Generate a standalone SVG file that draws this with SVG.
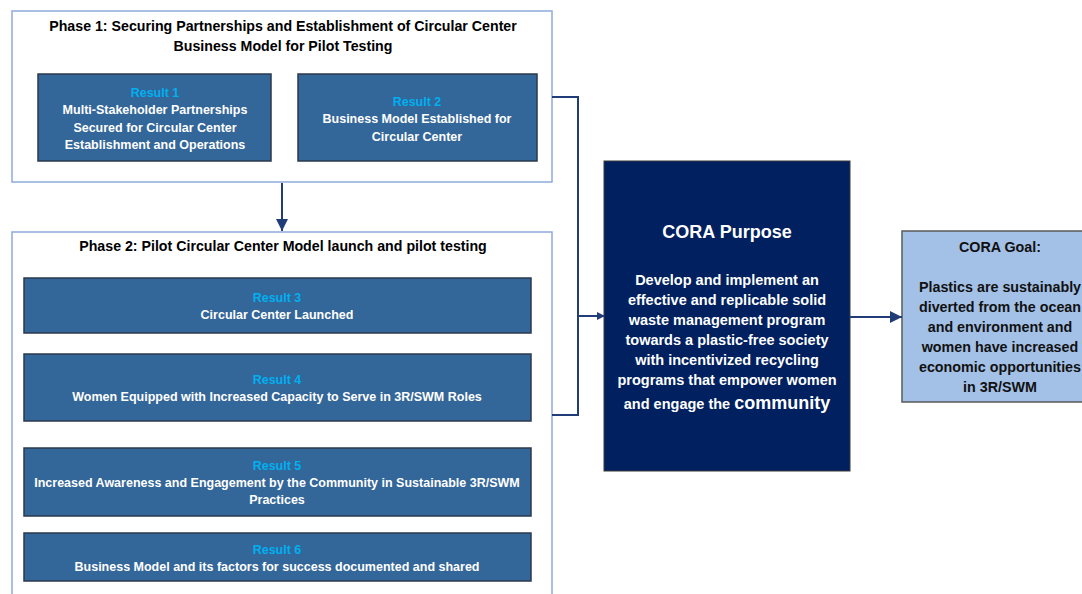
<svg xmlns="http://www.w3.org/2000/svg" width="1082" height="594" viewBox="0 0 1082 594">
<defs>
<style>
.phase{fill:#ffffff;stroke:#8eaadb;stroke-width:1.5}
.res{fill:#336699;stroke:#2b3a4d;stroke-width:1.5}
.ptitle{font-family:"Liberation Sans",Arial,sans-serif;font-weight:bold;font-size:14.2px;fill:#000;text-anchor:middle}
.rl{font-family:"Liberation Sans",Arial,sans-serif;font-weight:bold;font-size:12.5px;fill:#00b0f0;text-anchor:middle}
.rt{font-family:"Liberation Sans",Arial,sans-serif;font-weight:bold;font-size:12.5px;fill:#ffffff;text-anchor:middle}
.conn{fill:none;stroke:#203d78;stroke-width:2}
.pt{font-family:"Liberation Sans",Arial,sans-serif;font-weight:bold;fill:#ffffff;text-anchor:middle}
.gt{font-family:"Liberation Sans",Arial,sans-serif;font-weight:bold;font-size:14.3px;fill:#111;text-anchor:middle}
</style>
<marker id="arr" markerWidth="8" markerHeight="8" refX="7" refY="4" orient="auto" markerUnits="userSpaceOnUse">
<path d="M0,0 L8,4 L0,8 Z" fill="#203d78"/>
</marker>
<marker id="arrL" markerWidth="12" markerHeight="12" refX="12" refY="6" orient="auto" markerUnits="userSpaceOnUse">
<path d="M0,0 L12,6 L0,12 Z" fill="#203d78"/>
</marker>
</defs>
<rect width="1082" height="594" fill="#ffffff"/>

<g id="phase1">
<rect class="phase" x="12" y="11" width="540" height="171"/>
<text class="ptitle" x="283" y="31">Phase 1: Securing Partnerships and Establishment of Circular Center</text>
<text class="ptitle" x="283" y="51">Business Model for Pilot Testing</text>
</g>
<g id="result1">
<rect class="res" x="38" y="74" width="233" height="87"/>
<text class="rl" x="155" y="97">Result 1</text>
<text class="rt" x="155" y="114">Multi-Stakeholder Partnerships</text>
<text class="rt" x="155" y="132">Secured for Circular Center</text>
<text class="rt" x="155" y="149">Establishment and Operations</text>
</g>
<g id="result2">
<rect class="res" x="298" y="74" width="239" height="87"/>
<text class="rl" x="417" y="106">Result 2</text>
<text class="rt" x="417" y="123">Business Model Established for</text>
<text class="rt" x="417" y="141">Circular Center</text>
</g>

<g id="phase2">
<path class="phase" d="M12,600 L12,232 L552,232 L552,600"/>
<text class="ptitle" x="283" y="251">Phase 2: Pilot Circular Center Model launch and pilot testing</text>
</g>
<g id="result3">
<rect class="res" x="24" y="278" width="507" height="55"/>
<text class="rl" x="277" y="302">Result 3</text>
<text class="rt" x="277" y="319">Circular Center Launched</text>
</g>
<g id="result4">
<rect class="res" x="24" y="354" width="507" height="67"/>
<text class="rl" x="277" y="384">Result 4</text>
<text class="rt" x="277" y="401">Women Equipped with Increased Capacity to Serve in 3R/SWM Roles</text>
</g>
<g id="result5">
<rect class="res" x="24" y="448" width="507" height="68"/>
<text class="rl" x="277" y="470">Result 5</text>
<text class="rt" x="277" y="487">Increased Awareness and Engagement by the Community in Sustainable 3R/SWM</text>
<text class="rt" x="277" y="504">Practices</text>
</g>
<g id="result6">
<rect class="res" x="24" y="533" width="507" height="48"/>
<text class="rl" x="277" y="554">Result 6</text>
<text class="rt" x="277" y="571">Business Model and its factors for success documented and shared</text>
</g>

<g id="purpose">
<rect x="604" y="161" width="246" height="310" fill="#002060" stroke="#3a3a3a" stroke-width="1"/>
<text class="pt" x="727" y="238" font-size="18">CORA Purpose</text>
<text class="pt" x="727" y="285" font-size="14.5">Develop and implement an</text>
<text class="pt" x="727" y="305" font-size="14.5">effective and replicable solid</text>
<text class="pt" x="727" y="325" font-size="14.5">waste management program</text>
<text class="pt" x="727" y="345" font-size="14.5">towards a plastic-free society</text>
<text class="pt" x="727" y="365" font-size="14.5">with incentivized recycling</text>
<text class="pt" x="727" y="385" font-size="14.5">programs that empower women</text>
<text class="pt" x="727" y="409" font-size="14.5">and engage the <tspan font-size="18">community</tspan></text>
</g>

<g id="goal">
<rect x="902" y="231" width="196" height="171" fill="#a3c0e6" stroke="#595959" stroke-width="1.5"/>
<text class="gt" x="1000" y="252">CORA Goal:</text>
<text class="gt" x="1000" y="292">Plastics are sustainably</text>
<text class="gt" x="1000" y="312">diverted from the ocean</text>
<text class="gt" x="1000" y="332">and environment and</text>
<text class="gt" x="1000" y="352">women have increased</text>
<text class="gt" x="1000" y="372">economic opportunities</text>
<text class="gt" x="1000" y="392">in 3R/SWM</text>
</g>

<g id="connectors">
<line class="conn" x1="282" y1="183" x2="282" y2="231" marker-end="url(#arrL)"/>
<path class="conn" d="M552,97 L578,97 L578,415 L552,415"/>
<line class="conn" x1="578" y1="316" x2="604" y2="316" marker-end="url(#arr)"/>
<line class="conn" x1="850" y1="317" x2="902" y2="317" marker-end="url(#arrL)"/>
</g>
</svg>
